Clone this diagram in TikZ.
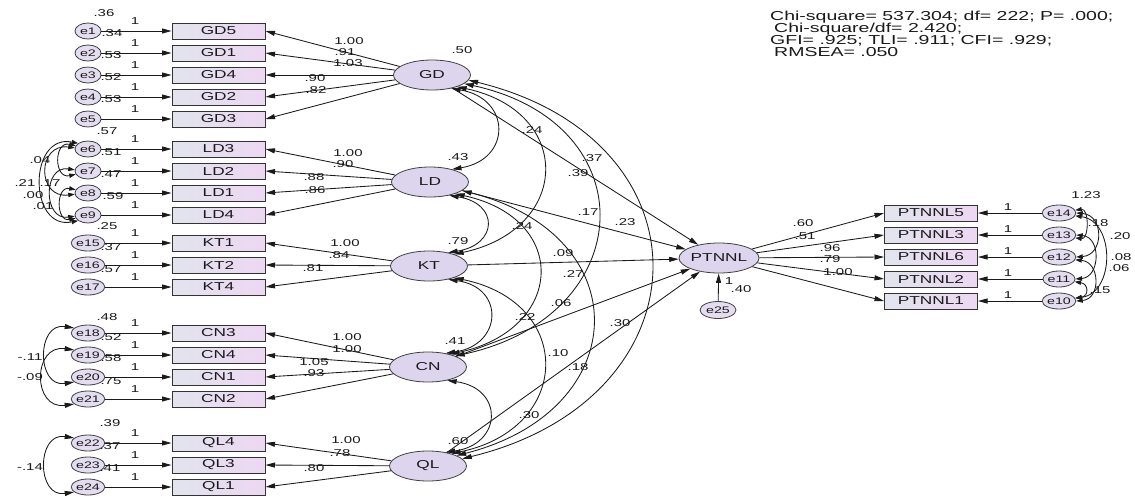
\documentclass[tikz,border=0pt]{standalone}
\usepackage{fontspec}
\setmainfont[FakeStretch=1.5]{Liberation Sans}
\usetikzlibrary{arrows.meta,shapes.geometric}
\newcommand{\fsz}[1]{\fontsize{#1}{#1}\selectfont}
\definecolor{boxL}{HTML}{E2E4EE}
\definecolor{boxR}{HTML}{EDD7F2}
\definecolor{latfill}{HTML}{DDD5EE}
\definecolor{errfill}{HTML}{E4DDF0}
\definecolor{ink}{HTML}{1A1A1A}
\begin{document}
\begin{tikzpicture}[x=1pt,y=-1pt,
  >={Triangle[length=9.5pt,width=5pt]},
  obs/.style={rectangle, draw=black!80, line width=1pt, minimum width=93pt,
    minimum height=16pt, inner sep=0pt, left color=boxL, right color=boxR,
    text=ink, font=\fsz{11.5}},
  lat/.style={ellipse, draw=black!75, line width=0.8pt, fill=latfill,
    minimum width=77pt, minimum height=30pt, inner sep=0pt, text=ink, font=\fsz{11.5}},
  err/.style={ellipse, draw=black!75, line width=0.8pt, fill=errfill,
    minimum width=26pt, minimum height=16pt, inner sep=0pt, text=ink, font=\fsz{9.5}},
  lbl/.style={inner sep=0pt, text=ink, font=\fsz{10}},
  path/.style={->, line width=0.85pt, draw=ink},
  cov/.style={<->, line width=0.85pt, draw=ink},
  small/.style={>={Triangle[length=6.5pt,width=4.4pt]}}]

\fill[white] (0,0) rectangle (1135,499);
\useasboundingbox (0,0) rectangle (1135,499);

% ---------- measurement model, left column ----------
\node[err] (e1) at (88,31) {e1};
\node[err] (e2) at (88,53) {e2};
\node[err] (e3) at (88,75) {e3};
\node[err] (e4) at (88,97) {e4};
\node[err] (e5) at (88,119) {e5};
\node[obs] (GD5) at (218.5,31) {GD5};
\node[obs] (GD1) at (218.5,53) {GD1};
\node[obs] (GD4) at (218.5,75) {GD4};
\node[obs] (GD2) at (218.5,97) {GD2};
\node[obs] (GD3) at (218.5,119) {GD3};

\node[err] (e6) at (88,149) {e6};
\node[err] (e7) at (88,171) {e7};
\node[err] (e8) at (88,193) {e8};
\node[err] (e9) at (88,215) {e9};
\node[obs] (LD3) at (218.5,149) {LD3};
\node[obs] (LD2) at (218.5,171) {LD2};
\node[obs] (LD1) at (218.5,193) {LD1};
\node[obs] (LD4) at (218.5,215) {LD4};

\node[err] (e15) at (88,243) {e15};
\node[err] (e16) at (88,265) {e16};
\node[err] (e17) at (88,287) {e17};
\node[obs] (KT1) at (218.5,243) {KT1};
\node[obs] (KT2) at (218.5,265) {KT2};
\node[obs] (KT4) at (218.5,287) {KT4};

\node[err] (e18) at (88,333) {e18};
\node[err] (e19) at (88,355) {e19};
\node[err] (e20) at (88,377) {e20};
\node[err] (e21) at (88,399) {e21};
\node[obs] (CN3) at (218.5,333) {CN3};
\node[obs] (CN4) at (218.5,355) {CN4};
\node[obs] (CN1) at (218.5,377) {CN1};
\node[obs] (CN2) at (218.5,399) {CN2};

\node[err] (e22) at (88,443) {e22};
\node[err] (e23) at (88,465) {e23};
\node[err] (e24) at (88,487) {e24};
\node[obs] (QL4) at (218.5,443) {QL4};
\node[obs] (QL3) at (218.5,465) {QL3};
\node[obs] (QL1) at (218.5,487) {QL1};

% latent factors
\node[lat] (GD) at (432,75) {GD};
\node[lat] (LD) at (430,182) {LD};
\node[lat] (KT) at (429,266) {KT};
\node[lat] (CN) at (428,367) {CN};
\node[lat] (QL) at (428,466) {QL};

% outcome factor and its indicators
\node[lat] (PTNNL) at (719,258) {PTNNL};
\node[err, minimum width=36pt, minimum height=17pt] (e25) at (718,310) {e25};
\node[obs] (PTNNL5) at (931,213) {PTNNL5};
\node[obs] (PTNNL3) at (931,235) {PTNNL3};
\node[obs] (PTNNL6) at (931,257) {PTNNL6};
\node[obs] (PTNNL2) at (931,279) {PTNNL2};
\node[obs] (PTNNL1) at (931,301) {PTNNL1};
\node[err] (e14) at (1059,213) {e14};
\node[err] (e13) at (1059,235) {e13};
\node[err] (e12) at (1059,257) {e12};
\node[err] (e11) at (1059,279) {e11};
\node[err] (e10) at (1059,301) {e10};

% error -> indicator paths
\foreach \e/\b in {e1/GD5,e2/GD1,e3/GD4,e4/GD2,e5/GD3,e6/LD3,e7/LD2,e8/LD1,e9/LD4,
  e15/KT1,e16/KT2,e17/KT4,e18/CN3,e19/CN4,e20/CN1,e21/CN2,e22/QL4,e23/QL3,e24/QL1}
  \draw[path] (\e) -- (\b.west);
\foreach \e/\b in {e14/PTNNL5,e13/PTNNL3,e12/PTNNL6,e11/PTNNL2,e10/PTNNL1}
  \draw[path] (\e) -- (\b.east);

% factor -> indicator paths
\foreach \f/\b in {GD/GD5,GD/GD1,GD/GD4,GD/GD2,GD/GD3,LD/LD3,LD/LD2,LD/LD1,LD/LD4,
  KT/KT1,KT/KT2,KT/KT4,CN/CN3,CN/CN4,CN/CN1,CN/CN2,QL/QL4,QL/QL3,QL/QL1}
  \draw[path] (\f) -- (\b.east);
\foreach \b in {PTNNL5,PTNNL3,PTNNL6,PTNNL2,PTNNL1}
  \draw[path] (PTNNL) -- (\b.west);

% structural paths
\foreach \f in {GD,LD,KT,CN,QL}
  \draw[path] (\f) -- (PTNNL);
\draw[path] (e25) -- (PTNNL);

% factor covariances
\draw[cov] (GD.-35) .. controls +(60,10) and +(60,-10) .. (LD.30);
\draw[cov] (GD.-25) .. controls +(117,25) and +(117,-25) .. (KT.25);
\draw[cov] (GD.-15) .. controls +(184,40) and +(184,-40) .. (CN.22);
\draw[cov] (GD.-8) .. controls +(247,60) and +(247,-60) .. (QL.12);
\draw[cov] (LD.-35) .. controls +(50,8) and +(50,-8) .. (KT.35);
\draw[cov] (LD.-25) .. controls +(115,25) and +(115,-25) .. (CN.30);
\draw[cov] (LD.-15) .. controls +(177,45) and +(177,-45) .. (QL.20);
\draw[cov] (KT.-35) .. controls +(57,8) and +(57,-8) .. (CN.38);
\draw[cov] (KT.-25) .. controls +(121,25) and +(121,-25) .. (QL.28);
\draw[cov] (CN.-35) .. controls +(57,8) and +(57,-8) .. (QL.38);

% error covariances, left
\draw[cov,small] (e6.165) .. controls +(-22,-5) and +(-22,5) .. (e7.195);
\draw[cov,small] (e6.150) .. controls +(-50,-10) and +(-50,10) .. (e9.210);
\draw[cov,small] (e6.175) .. controls +(-38,-5) and +(-38,5) .. (e8.185);
\draw[cov,small] (e7.175) .. controls +(-32,-5) and +(-32,5) .. (e9.185);
\draw[cov,small] (e8.165) .. controls +(-20,-4) and +(-20,4) .. (e9.195);
\draw[cov] (e18.160) .. controls +(-38,-6) and +(-38,6) .. (e20.200);
\draw[cov] (e19.160) .. controls +(-42,-6) and +(-42,6) .. (e21.200);
\draw[cov] (e22.160) .. controls +(-38,-6) and +(-38,6) .. (e24.200);

% error covariances, right
\draw[cov,small] (e14.10) .. controls +(14,-2) and +(14,2) .. (e13.-10);
\draw[cov,small] (e14.0) .. controls +(28,2) and +(28,-2) .. (e12.0);
\draw[cov,small] (e14.-10) .. controls +(40,5) and +(40,-5) .. (e10.10);
\draw[cov,small] (e13.0) .. controls +(25,2) and +(25,-2) .. (e11.0);
\draw[cov,small] (e12.-10) .. controls +(25,2) and +(25,-2) .. (e10.0);
\draw[cov,small] (e11.-10) .. controls +(14,2) and +(14,-2) .. (e10.10);

% fixed loadings of the error terms
\foreach \r [count=\i] in {31,53,75,97,119,149,171,193,215,243,265,287,333,355,377,399,443,465,487}
  \node[lbl] (oneL\i) at (135,\r-10) {1};
\foreach \r [count=\i] in {213,235,257,279,301}
  \node[lbl] (oneR\i) at (1008,\r-6) {1};
\node[lbl] (one25) at (729,281) {1};

% error variances
\foreach \n/\x/\y/\t in {v1/104/13/.36, v2/112/33/.34, v3/111/55/.53, v4/111/77/.52,
  v5/111/99/.53, v6/107/131/.57, v7/111/152/.51, v8/111/174/.47, v9/113/196/.59,
  v15/107/226/.25, v16/111/247/.37, v17/111/269/.57, v18/107/317/.48, v19/111/337/.52,
  v20/111/358/.58, v21/111/381/.75, v22/110/423/.39, v23/110/446/.37, v24/110/468/.41,
  v25/741/289/.40}
  \node[lbl] (\n) at (\x,\y) {\t};

% error covariance estimates
\foreach \n/\x/\y/\t in {c1/40/160/.04, c2/25/183/.21, c3/50/183/.17, c4/33/195/.00,
  c5/43/206/.01, c6/30/357/-.11, c7/30/377/-.09, c8/30/467/-.14,
  r1/1086/195/1.23, r2/1098/223/.18, r3/1120/236/.20, r4/1121/257/.08,
  r5/1119/268/.06, r6/1100/290/.15}
  \node[lbl] (\n) at (\x,\y) {\t};

% factor variances
\foreach \n/\x/\y/\t in {fGD/462/50/.50, fLD/458/157/.43, fKT/458/241/.79,
  fCN/455/341/.41, fQL/458/441/.60}
  \node[lbl] (\n) at (\x,\y) {\t};

% factor loadings
\foreach \n/\x/\y/\t in {a1/349/41/1.00, a2/345/52/.91, a3/348/63/1.03, a4/315/78/.90,
  a5/316/90/.82, b1/348/153/1.00, b2/343/164/.90, b3/314/177/.88, b4/315/190/.86,
  k1/345/243/1.00, k2/339/255/.84, k3/313/268/.81, n1/347/337/1.00, n2/347/349/1.00,
  n3/314/362/1.05, n4/314/373/.93, q1/346/440/1.00, q2/340/453/.78, q3/314/468/.80,
  p1/803/223/.60, p2/805/236/.51, p3/830/248/.96, p4/830/259/.79, p5/838/272/1.00}
  \node[lbl] (\n) at (\x,\y) {\t};

% structural estimates
\foreach \n/\x/\y/\t in {s1/532/130/.24, s2/592/158/.37, s3/578/173/.39, s4/588/212/.17,
  s5/625/222/.23, s6/522/226/.24, s7/563/253/.09, s8/573/274/.27, s9/561/303/.06,
  s10/525/317/.22, s11/558/353/.10, s12/578/367/.18, s13/620/323/.30, s14/529/415/.30}
  \node[lbl] (\n) at (\x,\y) {\t};

% model fit summary
\node[anchor=west, inner sep=0pt, text=ink, font=\fsz{13}] (fit1) at (770,17) {Chi-square= 537.304; df= 222; P= .000;};
\node[anchor=west, inner sep=0pt, text=ink, font=\fsz{13}] (fit2) at (774,29) {Chi-square/df= 2.420;};
\node[anchor=west, inner sep=0pt, text=ink, font=\fsz{13}] (fit3) at (770,40.5) {GFI= .925; TLI= .911; CFI= .929;};
\node[anchor=west, inner sep=0pt, text=ink, font=\fsz{13}] (fit4) at (774,52) {RMSEA= .050};
\end{tikzpicture}
\end{document}
